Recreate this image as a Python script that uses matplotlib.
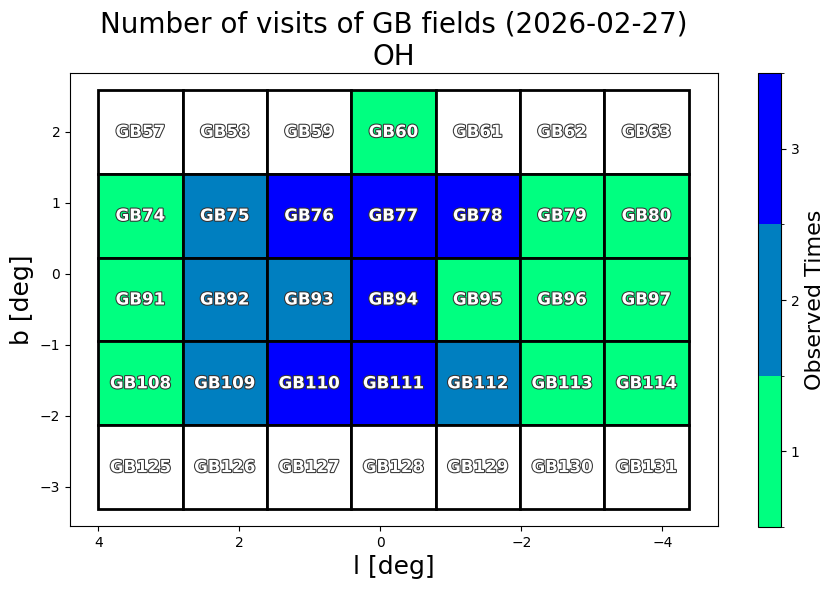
import numpy as np
import matplotlib
matplotlib.use('Agg')
import matplotlib.pyplot as plt
import matplotlib.patheffects as pe
from matplotlib.patches import Rectangle
from matplotlib.colors import ListedColormap, BoundaryNorm
from matplotlib.cm import ScalarMappable

# field centres (deg)
l_centers = [3.402, 2.206, 1.010, -0.186, -1.382, -2.578, -3.774]
b_centers = [2.0, 0.82, -0.36, -1.54, -2.72]
first_ids = [57, 74, 91, 108, 125]

# number of visits per field, row by row (top to bottom)
visits = [
    [0, 0, 0, 1, 0, 0, 0],
    [1, 2, 3, 3, 3, 1, 1],
    [1, 2, 2, 3, 1, 1, 1],
    [1, 2, 3, 3, 2, 1, 1],
    [0, 0, 0, 0, 0, 0, 0],
]

cell_w = 1.196
cell_h = 1.18

base = plt.get_cmap('winter_r')
cmap = ListedColormap([base(0.0), base(0.5), base(1.0)])
norm = BoundaryNorm([0.5, 1.5, 2.5, 3.5], cmap.N)

fig = plt.figure(figsize=(8.35, 5.9), dpi=100)
ax = fig.add_axes([70/835, 1 - 526/590, 648/835, 453/590])
cax = fig.add_axes([758/835, 1 - 527/590, 23/835, 454/590])

for j, b in enumerate(b_centers):
    for i, l in enumerate(l_centers):
        n = visits[j][i]
        fc = cmap(norm(n)) if n > 0 else 'white'
        ax.add_patch(Rectangle((l - cell_w/2, b - cell_h/2), cell_w, cell_h,
                               facecolor=fc, edgecolor='black', linewidth=2))
        t = ax.text(l, b, 'GB%d' % (first_ids[j] + i), ha='center', va='center',
                    fontsize=12, fontweight='bold', color='white')
        t.set_path_effects([pe.withStroke(linewidth=1.5, foreground='#333333')])

ax.set_xlim(4.4, -4.79)
ax.set_ylim(-3.55, 2.83)
ax.set_xlabel('l [deg]', fontsize=18)
ax.set_ylabel('b [deg]', fontsize=18)
ax.set_title('Number of visits of GB fields (2026-02-27)\nOH', fontsize=20)

sm = ScalarMappable(norm=norm, cmap=cmap)
cb = fig.colorbar(sm, cax=cax, ticks=[1, 2, 3])
cb.set_label('Observed Times', fontsize=16)

fig.savefig('out.png', dpi=100)
